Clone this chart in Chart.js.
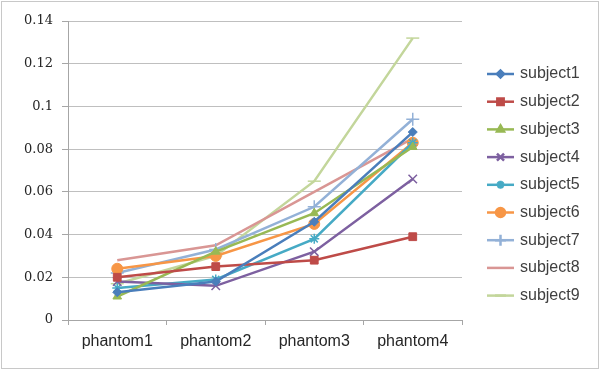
<!DOCTYPE html>
<html><head><meta charset="utf-8">
<script src="https://cdn.jsdelivr.net/npm/chart.js@4"></script>
<style>html,body{margin:0;padding:0;background:#fff}#wrap{width:601px;height:371px}</style>
</head><body><div id="wrap"><canvas id="c" width="601" height="371"></canvas></div>
<script>
const categories = ["phantom1", "phantom2", "phantom3", "phantom4"];
const seriesNames = ["subject1","subject2","subject3","subject4","subject5","subject6","subject7","subject8","subject9"];
const subject1 = [0.013, 0.018, 0.046, 0.088];
const subject2 = [0.020, 0.025, 0.028, 0.039];
const subject3 = [0.011, 0.032, 0.050, 0.081];
const subject4 = [0.018, 0.016, 0.032, 0.066];
const subject5 = [0.015, 0.019, 0.038, 0.083];
const subject6 = [0.024, 0.030, 0.045, 0.083];
const subject7 = [0.022, 0.033, 0.053, 0.094];
const subject8 = [0.028, 0.035, 0.060, 0.085];
const subject9 = [0.017, 0.030, 0.065, 0.132];
const yTicks = [0, 0.02, 0.04, 0.06, 0.08, 0.1, 0.12, 0.14];

const values = [subject1,subject2,subject3,subject4,subject5,subject6,subject7,subject8,subject9];
const colors = ["#4A7EBB","#BE4B48","#98B954","#7D60A0","#46AAC5","#F79646","#93B1D7","#D99694","#C3D69B"];
const styles = ["rectRot","rect","triangle","crossRot","star","circle","cross",false,"line"];
const radii = [4.5,5.5,5,6,5,5.5,6.5,0,6.5];

const datasets = values.map((v,i)=>({
  label: seriesNames[i], data: v, borderColor: colors[i], backgroundColor: colors[i],
  borderWidth: 2.5, pointStyle: styles[i], pointRadius: radii[i], pointBorderWidth: (styles[i]==="crossRot"||styles[i]==="cross"||styles[i]==="star"||styles[i]==="line")?1.5:1,
  pointBorderColor: colors[i], pointBackgroundColor: colors[i], tension: 0, fill: false
}));

const customLegend = {
  id: 'customLegend',
  afterDraw(chart) {
    const ctx = chart.ctx;
    ctx.save();
    ctx.strokeStyle = "#C8C8C8"; ctx.lineWidth = 1;
    ctx.strokeRect(1.5, 1.5, 597, 367);
    const x0 = 487, x1 = 514, tx = 520, y0 = 74, dy = 27.7;
    chart.data.datasets.forEach((ds, i) => {
      const y = y0 + i * dy;
      ctx.strokeStyle = ds.borderColor; ctx.lineWidth = 2.5;
      ctx.beginPath(); ctx.moveTo(x0, y); ctx.lineTo(x1, y); ctx.stroke();
      if (ds.pointStyle) {
        ctx.fillStyle = ds.backgroundColor; ctx.strokeStyle = ds.borderColor;
        Chart.helpers.drawPoint(ctx, {pointStyle: ds.pointStyle, radius: Math.max(ds.pointRadius - 1, 3), borderWidth: ds.pointBorderWidth, rotation: 0}, (x0+x1)/2, y);
      }
      ctx.fillStyle = "#404040";
      ctx.font = "16px 'Liberation Sans', Arial, sans-serif";
      ctx.textBaseline = "middle"; ctx.textAlign = "left";
      ctx.fillText(ds.label, tx, y);
    });
    ctx.restore();
  }
};

new Chart(document.getElementById('c'), {
  type: 'line',
  data: { labels: categories, datasets },
  options: {
    responsive: false, animation: false, devicePixelRatio: 1,
    layout: { padding: { left: 0, top: 21, right: 139, bottom: 0 } },
    plugins: { legend: { display: false }, tooltip: { enabled: false } },
    scales: {
      x: {
        offset: true,
        grid: { display: true, offset: true, drawOnChartArea: false, drawTicks: true, tickLength: 5, color: "#A6A6A6", lineWidth: 1 },
        border: { display: true, color: "#A6A6A6", width: 1 },
        ticks: { color: "#262626", font: { family: "'Liberation Sans', Arial, sans-serif", size: 16 }, padding: 7, maxRotation: 0 },
        afterFit(s) { s.height = 51; }
      },
      y: {
        min: 0, max: 0.14,
        afterBuildTicks(s) { s.ticks = yTicks.map(v => ({ value: v })); },
        grid: { color: "#BFBFBF", lineWidth: 1, drawTicks: true, tickLength: 6, tickColor: "#A6A6A6" },
        border: { display: true, color: "#A6A6A6", width: 1 },
        ticks: { color: "#262626", font: { family: "'DejaVu Serif', serif", size: 13 }, padding: 9,
          callback: (v) => String(Math.round(v * 100) / 100) },
        afterFit(s) { s.width = 68; }
      }
    }
  },
  plugins: [customLegend]
});
</script>
</body></html>
